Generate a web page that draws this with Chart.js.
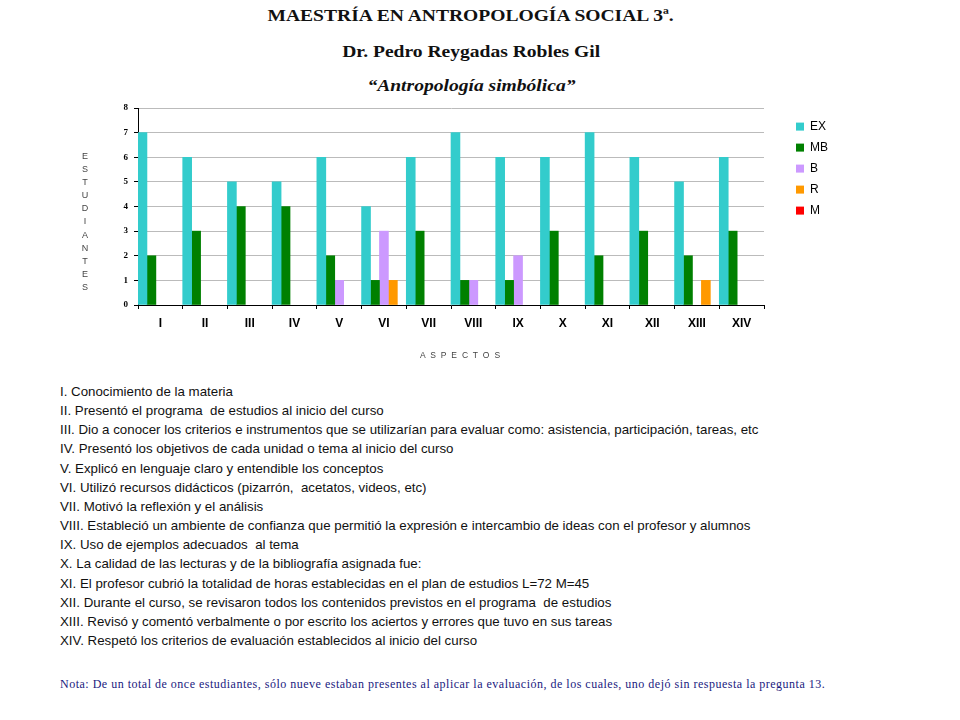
<!DOCTYPE html>
<html>
<head>
<meta charset="utf-8">
<script src="https://cdn.jsdelivr.net/npm/chart.js@4"></script>
<style>
  body { margin: 0; background: #fff; width: 960px; height: 720px; position: relative; overflow: hidden; }
  #chart { position: absolute; left: 0; top: 0; }
  .title { position: absolute; left: 0; width: 942px; text-align: center; font-family: "Liberation Serif", serif; font-weight: bold; font-size: 17px; color: #111; }
  .title span { display: inline-block; transform: scaleX(1.15); transform-origin: center; }
  #ylab { position: absolute; left: 80px; top: 150px; width: 10px; text-align: center; font-family: "Liberation Sans", Arial, sans-serif; font-size: 9px; line-height: 13.1px; color: #444; }
  #xlab { position: absolute; left: 420px; top: 350px; font-family: "Liberation Sans", Arial, sans-serif; font-size: 8.5px; letter-spacing: 1.3px; color: #444; }
  #list { position: absolute; left: 60px; top: 382px; font-family: "Liberation Sans", Arial, sans-serif; font-size: 13.3px; line-height: 19.15px; color: #111; white-space: nowrap; }
  #note { position: absolute; left: 60px; top: 677px; font-family: "Liberation Serif", serif; font-size: 12px; letter-spacing: 0.5px; color: #1a1a80; white-space: nowrap; }
</style>
</head>
<body>
<div class="title" style="top:6px"><span>MAESTRÍA EN ANTROPOLOGÍA SOCIAL 3ª.</span></div>
<div class="title" style="top:42px"><span>Dr. Pedro Reygadas Robles Gil</span></div>
<div class="title" style="top:76px; font-style:italic"><span>“Antropología simbólica”</span></div>
<canvas id="chart" width="960" height="380"></canvas>
<div id="ylab"></div>
<div id="xlab">A S P E C T O S</div>
<div id="list"></div>
<div id="note">Nota: De un total de once estudiantes, sólo nueve estaban presentes al aplicar la evaluación, de los cuales, uno dejó sin respuesta la pregunta 13.</div>
<script>
// Categories (aspectos evaluados)
const aspects = ['I', 'II', 'III', 'IV', 'V', 'VI', 'VII', 'VIII', 'IX', 'X', 'XI', 'XII', 'XIII', 'XIV'];

// Number of students per rating
const exValues = [7, 6, 5, 5, 6, 4, 6, 7, 6, 6, 7, 6, 5, 6];
const mbValues = [2, 3, 4, 4, 2, 1, 3, 1, 1, 3, 2, 3, 2, 3];
const bValues  = [0, 0, 0, 0, 1, 3, 0, 1, 2, 0, 0, 0, 0, 0];
const rValues  = [0, 0, 0, 0, 0, 1, 0, 0, 0, 0, 0, 0, 1, 0];
const mValues  = [0, 0, 0, 0, 0, 0, 0, 0, 0, 0, 0, 0, 0, 0];

const yMax = 8;
const yStep = 1;

const aspectTexts = [
    'I. Conocimiento de la materia',
    'II. Presentó el programa  de estudios al inicio del curso',
    'III. Dio a conocer los criterios e instrumentos que se utilizarían para evaluar como: asistencia, participación, tareas, etc',
    'IV. Presentó los objetivos de cada unidad o tema al inicio del curso',
    'V. Explicó en lenguaje claro y entendible los conceptos',
    'VI. Utilizó recursos didácticos (pizarrón,  acetatos, videos, etc)',
    'VII. Motivó la reflexión y el análisis',
    'VIII. Estableció un ambiente de confianza que permitió la expresión e intercambio de ideas con el profesor y alumnos',
    'IX. Uso de ejemplos adecuados  al tema',
    'X. La calidad de las lecturas y de la bibliografía asignada fue:',
    'XI. El profesor cubrió la totalidad de horas establecidas en el plan de estudios L=72 M=45',
    'XII. Durante el curso, se revisaron todos los contenidos previstos en el programa  de estudios',
    'XIII. Revisó y comentó verbalmente o por escrito los aciertos y errores que tuvo en sus tareas',
    'XIV. Respetó los criterios de evaluación establecidos al inicio del curso'
];

document.getElementById('ylab').innerHTML = 'ESTUDIANTES'.split('').join('<br>');
document.getElementById('list').innerHTML = aspectTexts.map(t => t.replace(/  /g, ' &nbsp;')).join('<br>');

// zero counts are left empty so no hairline is drawn on the axis
const noZero = arr => arr.map(v => (v === 0 ? null : v));

const ctx = document.getElementById('chart');
new Chart(ctx, {
    type: 'bar',
    data: {
        labels: aspects,
        datasets: [
            { label: 'EX', data: noZero(exValues), backgroundColor: '#33CCCC' },
            { label: 'MB', data: noZero(mbValues), backgroundColor: '#008000' },
            { label: 'B', data: noZero(bValues), backgroundColor: '#CC99FF' },
            { label: 'R', data: noZero(rValues), backgroundColor: '#FF9900' },
            { label: 'M', data: noZero(mValues), backgroundColor: '#FF0000' }
        ]
    },
    options: {
        responsive: false,
        animation: false,
        devicePixelRatio: 1,
        categoryPercentage: 1.0,
        barPercentage: 1.0,
        layout: { padding: { top: 108, right: 122, left: 0, bottom: 0 } },
        plugins: {
            tooltip: { enabled: false },
            legend: {
                position: 'right',
                align: 'start',
                title: { display: true, text: ' ', padding: 0, font: { size: 3 } },
                labels: {
                    boxWidth: 8,
                    boxHeight: 8,
                    padding: 9,
                    color: '#000',
                    font: { family: 'Liberation Sans, Arial, sans-serif', size: 12 }
                }
            }
        },
        scales: {
            x: {
                afterFit: (s) => { s.height = 75; },
                grid: { drawOnChartArea: false, tickLength: 4, tickColor: '#000' },
                border: { color: '#000', width: 1 },
                ticks: {
                    padding: 7,
                    color: '#000',
                    font: { family: 'Liberation Sans, Arial, sans-serif', size: 12, weight: 'bold' }
                }
            },
            y: {
                min: 0,
                max: yMax,
                afterFit: (s) => { s.width = 138; },
                grid: { color: '#bbbbbb', tickLength: 4, tickColor: '#000' },
                border: { color: '#000', width: 1 },
                ticks: {
                    stepSize: yStep,
                    padding: 6,
                    color: '#000',
                    font: { family: 'Liberation Serif, serif', size: 9, weight: 'bold' }
                }
            },
            yRight: {
                position: 'right',
                display: true,
                afterFit: (s) => { s.width = 23; },
                grid: { display: false },
                border: { display: false },
                ticks: { display: false }
            }
        }
    }
});
</script>
</body>
</html>
